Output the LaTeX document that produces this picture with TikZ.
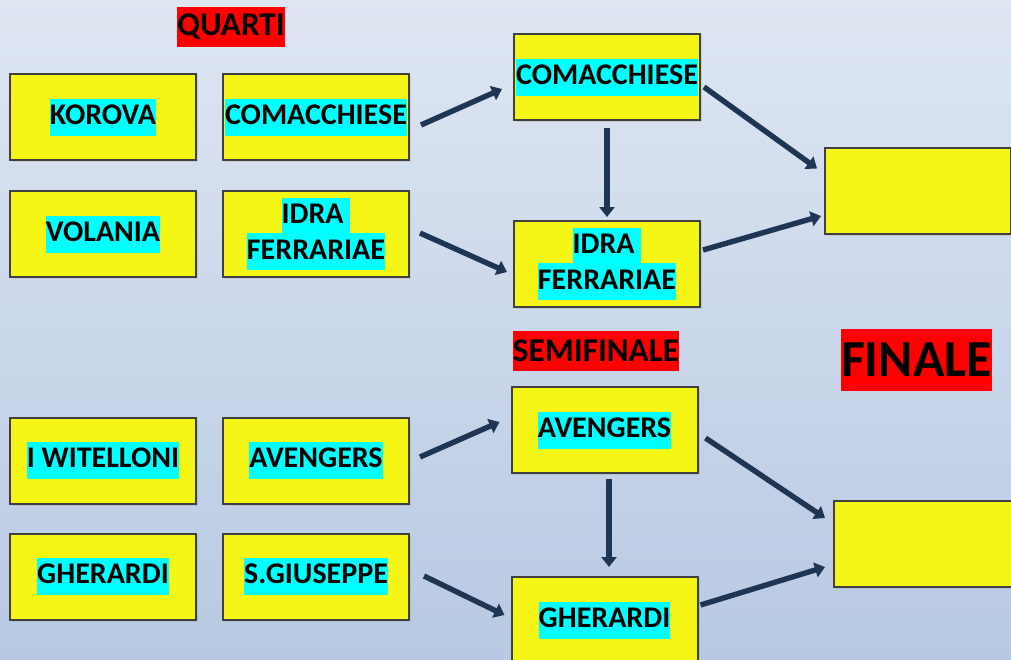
\documentclass[tikz,border=0pt]{standalone}
\usepackage{fontspec}
\setmainfont{Carlito}
\usetikzlibrary{matrix,arrows.meta,shadows}

\definecolor{boxyellow}{RGB}{245,245,22}
\definecolor{hlcyan}{RGB}{0,255,255}
\definecolor{arrowblue}{RGB}{31,53,84}
\definecolor{bgtop}{RGB}{222,230,242}
\definecolor{bgmid}{RGB}{193,207,229}
\definecolor{bgbottom}{RGB}{184,201,227}

\newcommand{\hl}[1]{{\setlength{\fboxsep}{0pt}\colorbox{hlcyan}{\strut #1}}}
\newcommand{\hltwo}[2]{\vbox{\offinterlineskip\halign{\hfil##\hfil\cr\hl{#1}\cr\noalign{\vskip-0.8pt}\hl{#2}\cr}}}

\tikzset{
  team/.style={draw=black!75, line width=1pt, fill=boxyellow,
    minimum width=93pt, minimum height=43pt, inner sep=0pt,
    font=\bfseries\fontsize{15}{18.5}\selectfont,
    drop shadow={opacity=0.2, shadow xshift=1pt, shadow yshift=-1pt}},
  stage/.style={fill=red, inner sep=0pt, minimum height=20pt,
    font=\bfseries\fontsize{16.6}{19}\selectfont},
  arr/.style={color=arrowblue, line width=2.7pt, -{Triangle[length=5pt,width=7.5pt]}},
}

\begin{document}
\begin{tikzpicture}[x=0.5pt,y=-0.5pt]
\useasboundingbox (0,0) rectangle (1011,659);
\clip (0,0) rectangle (1011,659);
\shade[top color=bgtop, middle color=bgmid, bottom color=bgbottom] (0,0) rectangle (1011,659);

% quarti
\matrix (quartiA) [matrix of nodes, nodes={team,anchor=center}, row sep=14.5pt, column sep=12.5pt] at (209.5,175.5)
  {
     \hl{KOROVA} & \hl{COMACCHIESE} \\
     \hl{VOLANIA} & \hltwo{IDRA }{FERRARIAE} \\};
\matrix (quartiB) [matrix of nodes, nodes={team,anchor=center}, row sep=14pt, column sep=12.5pt] at (209.5,518.5)
  {
     \hl{I WITELLONI} & \hl{AVENGERS} \\
     \hl{GHERARDI} & \hl{S.GIUSEPPE} \\};

% semifinale
\node[team] (semiA) at (607,77) {\hl{COMACCHIESE}};
\node[team] (semiB) at (607,264) {\hltwo{IDRA }{FERRARIAE}};
\node[team] (semiC) at (604.5,430) {\hl{AVENGERS}};
\node[team] (semiD) at (604.5,620) {\hl{GHERARDI}};

% finale
\node[team] (finaleA) at (918,190.5) {};
\node[team] (finaleB) at (927,544) {};

\node[stage, minimum width=53pt] (quarti) at (231,26.5) {QUARTI};
\node[stage, minimum width=83pt] (semifinale) at (596,351) {SEMIFINALE};
\node[stage, minimum width=74.5pt, minimum height=31pt,
  font=\bfseries\fontsize{26}{30}\selectfont] (finale) at (916.5,360) {FINALE};

\path[arr]
    ([shift={(11,8)}]quartiA-1-2.east) edge ([shift={(-11,12)}]semiA.west)
    ([shift={(10,-1)}]quartiA-2-2.east) edge ([shift={(-6,8)}]semiB.west)
    ([shift={(0,7)}]semiA.south) edge ([shift={(0,-3)}]semiB.north)
    ([shift={(3,10)}]semiA.east) edge ([shift={(-7,-22)}]finaleA.west)
    ([shift={(2,-14)}]semiB.east) edge ([shift={(-3,25.5)}]finaleA.west);
\path[arr]
    ([shift={(10,-3.5)}]quartiB-1-2.east) edge ([shift={(-11,-8)}]semiC.west)
    ([shift={(14,-0.5)}]quartiB-2-2.east) edge ([shift={(-6,-5)}]semiD.west)
    ([shift={(4.5,5)}]semiC.south) edge ([shift={(4.5,-9)}]semiD.north)
    ([shift={(7,8)}]semiC.east) edge ([shift={(-8,-26)}]finaleB.west)
    ([shift={(2,-15)}]semiD.east) edge ([shift={(-8,23)}]finaleB.west);
\end{tikzpicture}
\end{document}
